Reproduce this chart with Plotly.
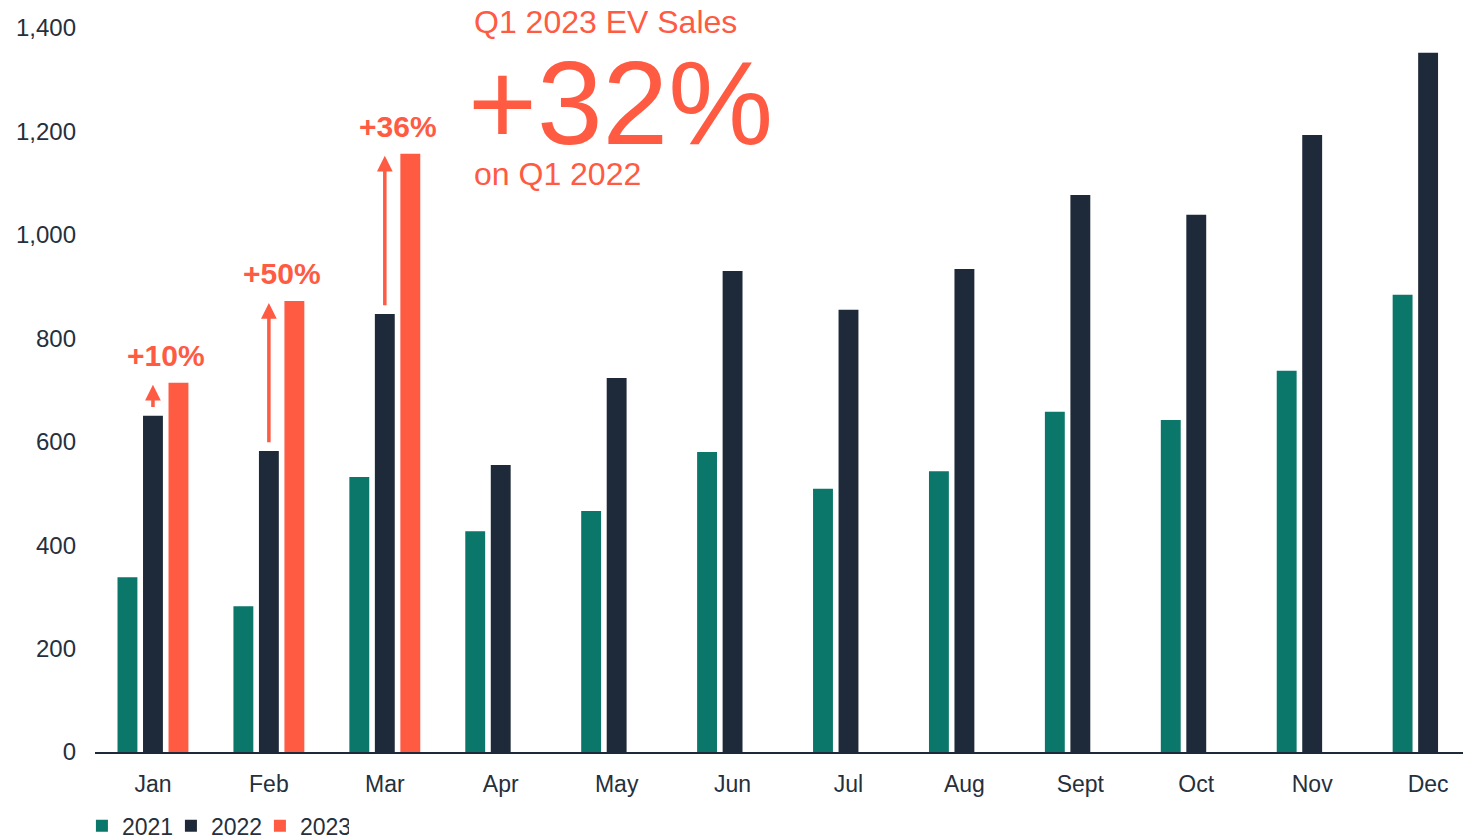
import plotly.graph_objects as go

months = ["Jan", "Feb", "Mar", "Apr", "May", "Jun", "Jul", "Aug", "Sept", "Oct", "Nov", "Dec"]
sales_2021 = [338, 282, 532, 427, 466, 580, 509, 543, 658, 642, 737, 884]
sales_2022 = [650, 582, 847, 555, 723, 930, 855, 934, 1077, 1039, 1193, 1352]
sales_2023 = [714, 872, 1157, None, None, None, None, None, None, None, None, None]
growth_labels = ["+10%", "+50%", "+36%"]
y_ticks = [0, 200, 400, 600, 800, 1000, 1200, 1400]

TEAL = "#0b766a"
NAVY = "#1e2a3a"
RED = "#ff5a42"
TXT = "#262f3c"
FONT = "Liberation Sans, Arial, sans-serif"

fig = go.Figure()
fig.add_bar(name="2021", x=months, y=sales_2021, marker=dict(color=TEAL, line=dict(width=0)))
fig.add_bar(name="2022", x=months, y=sales_2022, marker=dict(color=NAVY, line=dict(width=0)))
fig.add_bar(name="2023", x=months, y=sales_2023, marker=dict(color=RED, line=dict(width=0)))

annotations = []
for i, lab in enumerate(growth_labels):
    v22 = sales_2022[i]
    v23 = sales_2023[i]
    # arrow from top of 2022 bar up to 2023 level
    annotations.append(dict(
        x=i, y=v23 - 4, ax=i, ay=v22 + 14, xref="x", yref="y", axref="x", ayref="y",
        text="", showarrow=True, arrowhead=2, arrowsize=0.9, arrowwidth=3.5, arrowcolor=RED,
    ))
    annotations.append(dict(
        x=i, y=v23, xref="x", yref="y", text="<b>" + lab + "</b>", showarrow=False,
        xanchor="center", yanchor="bottom", xshift=13, yshift=9,
        font=dict(family=FONT, size=30, color=RED),
    ))

annotations += [
    dict(x=0.2740, y=1.0083, xref="paper", yref="paper", text="Q1 2023 EV Sales",
         showarrow=False, xanchor="left", yanchor="middle",
         font=dict(family=FONT, size=32, color=RED)),
    dict(x=0.2696, y=0.8965, xref="paper", yref="paper", text="+32%",
         showarrow=False, xanchor="left", yanchor="middle",
         font=dict(family=FONT, size=118, color=RED)),
    dict(x=0.2740, y=0.798, xref="paper", yref="paper", text="on Q1 2022",
         showarrow=False, xanchor="left", yanchor="middle",
         font=dict(family=FONT, size=32, color=RED)),
]

fig.update_layout(
    width=1463, height=830,
    margin=dict(l=87, r=0, t=20, b=86, autoexpand=False),
    paper_bgcolor="white", plot_bgcolor="white",
    barmode="group", bargap=0.34, bargroupgap=0.22,
    font=dict(family=FONT, size=23, color=TXT),
    showlegend=True,
    legend=dict(orientation="h", x=-0.0095, y=-0.102, xanchor="left", yanchor="middle",
                font=dict(size=23, color=TXT), entrywidth=44, entrywidthmode="pixels",
                itemwidth=30, traceorder="normal"),
    annotations=annotations,
)
fig.update_xaxes(type="category", range=[-0.5, 11.37], showline=True, linecolor=NAVY, linewidth=2,
                 ticks="", showgrid=False, ticklabelstandoff=10, automargin=False,
                 tickfont=dict(size=23, color=TXT), fixedrange=True)
fig.update_yaxes(range=[0, 1400], tickvals=y_ticks, tickformat=",d", showgrid=False,
                 zeroline=False, showline=False, ticks="", ticklabelstandoff=18, automargin=False,
                 tickfont=dict(size=24, color=TXT), fixedrange=True)

fig.write_html("out.html")
